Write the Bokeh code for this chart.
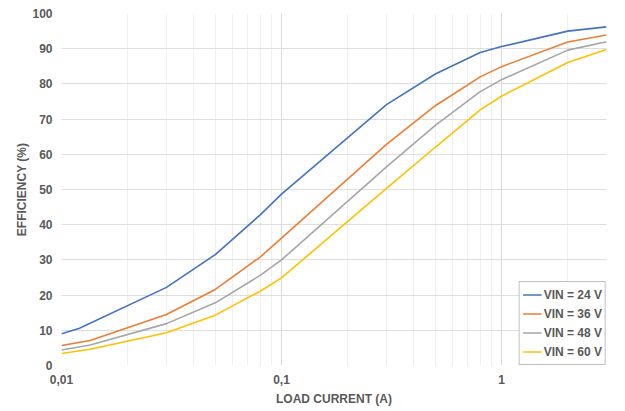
from bokeh.plotting import figure
from bokeh.models import Range1d, FixedTicker, CustomJSTickFormatter, Legend, LegendItem
from bokeh.embed import file_html
from bokeh.resources import INLINE

# ---- data ----
x_24 = [0.01, 0.012, 0.03, 0.05, 0.08, 0.1, 0.3, 0.5, 0.8, 1, 2, 3]
y_24 = [9.0, 10.5, 22.2, 31.5, 42.8, 48.7, 74.1, 82.8, 88.9, 90.6, 95.0, 96.2]

x_36 = [0.01, 0.0135, 0.03, 0.05, 0.08, 0.1, 0.3, 0.5, 0.8, 1, 2, 3]
y_36 = [5.7, 7.1, 14.5, 21.6, 30.8, 36.2, 62.8, 73.8, 82.0, 84.9, 91.9, 93.9]

x_48 = [0.01, 0.0135, 0.03, 0.05, 0.08, 0.1, 0.3, 0.5, 0.8, 1, 2, 3]
y_48 = [4.4, 5.8, 11.9, 17.8, 25.6, 30.0, 56.4, 68.2, 77.8, 81.2, 89.6, 92.0]

x_60 = [0.01, 0.0135, 0.03, 0.05, 0.08, 0.1, 0.3, 0.5, 0.8, 1, 2, 3]
y_60 = [3.4, 4.6, 9.3, 14.3, 21.1, 24.9, 50.3, 62.0, 72.6, 76.5, 86.1, 89.8]

series_labels = ["VIN = 24 V", "VIN = 36 V", "VIN = 48 V", "VIN = 60 V"]
series_colors = ["#4472C4", "#ED7D31", "#A5A5A5", "#FFC000"]

x_major_ticks = [0.01, 0.1, 1]
x_minor_ticks = [0.02, 0.03, 0.04, 0.05, 0.06, 0.07, 0.08, 0.09,
                 0.2, 0.3, 0.4, 0.5, 0.6, 0.7, 0.8, 0.9, 2, 3]
y_ticks = [0, 10, 20, 30, 40, 50, 60, 70, 80, 90, 100]

FONT = "Liberation Sans"
TXT = "#595959"

p = figure(width=616, height=408, x_axis_type="log",
           x_range=Range1d(0.01, 3), y_range=Range1d(0, 100),
           output_backend="svg", toolbar_location=None,
           min_border_left=61, min_border_top=13, min_border_right=10, min_border_bottom=40)

p.outline_line_color = None
p.background_fill_color = "white"
p.border_fill_color = "white"

# x axis
p.xaxis.ticker = FixedTicker(ticks=x_major_ticks, minor_ticks=x_minor_ticks)
p.xaxis.formatter = CustomJSTickFormatter(code="return tick.toString().replace('.', ',');")
p.xaxis.axis_label = "LOAD CURRENT (A)"
# y axis
p.yaxis.ticker = FixedTicker(ticks=y_ticks)
p.yaxis.axis_label = "EFFICIENCY (%)"

for ax in (p.xaxis, p.yaxis):
    ax.axis_line_color = None
    ax.major_tick_line_color = None
    ax.minor_tick_line_color = None
    ax.major_tick_out = 0
    ax.major_tick_in = 0
    ax.minor_tick_out = 0
    ax.minor_tick_in = 0
    ax.major_label_text_font = FONT
    ax.major_label_text_font_style = "bold"
    ax.major_label_text_font_size = "12px"
    ax.major_label_text_color = TXT
    ax.axis_label_text_font = FONT
    ax.axis_label_text_font_style = "bold"
    ax.axis_label_text_font_size = "12px"
    ax.axis_label_text_color = TXT

p.yaxis.major_label_standoff = 9
p.yaxis.axis_label_standoff = 0
p.xaxis.major_label_standoff = 9
p.xaxis.axis_label_standoff = 5

p.xgrid.grid_line_color = "#d9d9d9"
p.xgrid.minor_grid_line_color = "#efefef"
p.ygrid.grid_line_color = "#dedede"
p.xgrid.grid_line_width = 1
p.ygrid.grid_line_width = 1

xs = [x_24, x_36, x_48, x_60]
ys = [y_24, y_36, y_48, y_60]
items = []
for xv, yv, lab, col in zip(xs, ys, series_labels, series_colors):
    r = p.line(xv, yv, line_color=col, line_width=1.6)
    items.append(LegendItem(label=lab, renderers=[r]))

legend = Legend(items=items, location="bottom_right")
legend.margin = 0
legend.padding = 3
legend.spacing = 0
legend.label_height = 19
legend.glyph_height = 19
legend.glyph_width = 19
legend.label_standoff = 2
legend.label_text_font = FONT
legend.label_text_font_style = "bold"
legend.label_text_font_size = "12px"
legend.label_text_color = TXT
legend.border_line_color = "#7f7f7f"
legend.border_line_width = 1
legend.background_fill_color = "white"
legend.background_fill_alpha = 1
p.add_layout(legend)

open("out.html", "w").write(file_html(p, INLINE))
